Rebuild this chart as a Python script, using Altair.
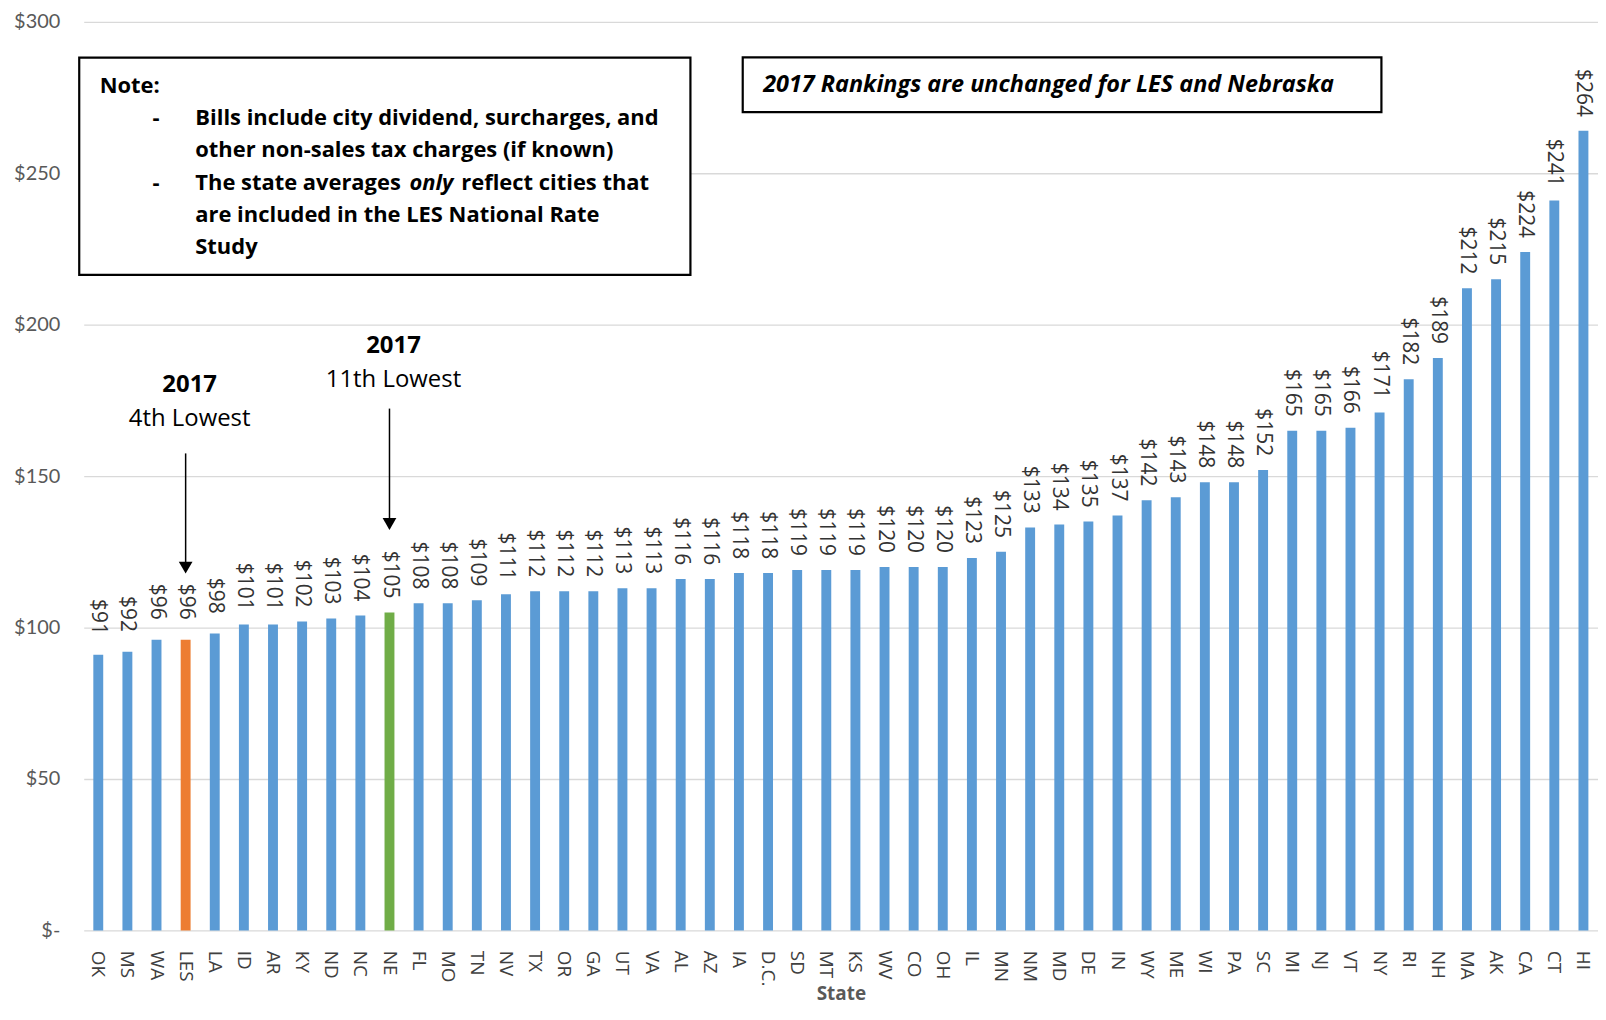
import altair as alt
import pandas as pd

# ---------------- data ----------------
states = ["OK", "MS", "WA", "LES", "LA", "ID", "AR", "KY", "ND", "NC", "NE", "FL", "MO",
          "TN", "NV", "TX", "OR", "GA", "UT", "VA", "AL", "AZ", "IA", "D.C.", "SD", "MT",
          "KS", "WV", "CO", "OH", "IL", "MN", "NM", "MD", "DE", "IN", "WY", "ME", "WI",
          "PA", "SC", "MI", "NJ", "VT", "NY", "RI", "NH", "MA", "AK", "CA", "CT", "HI"]
bills = [91, 92, 96, 96, 98, 101, 101, 102, 103, 104, 105, 108, 108,
         109, 111, 112, 112, 112, 113, 113, 116, 116, 118, 118, 119, 119,
         119, 120, 120, 120, 123, 125, 133, 134, 135, 137, 142, 143, 148,
         148, 152, 165, 165, 166, 171, 182, 189, 212, 215, 224, 241, 264]
highlight_states = ["LES", "NE"]
highlight_colors = ["#ED7D31", "#70AD47"]
base_color = "#5B9BD5"
y_ticks = [0, 50, 100, 150, 200, 250, 300]

# arrow annotations
arrow_states = ["LES", "NE"]
arrow_top = [157.5, 172.3]
arrow_head = [119.8, 134.2]
ann_year = ["2017", "2017"]
ann_year_y = [180.2, 193.0]
ann_rank = ["4th Lowest", "11th Lowest"]
ann_rank_y = [169.0, 181.8]

note_title = "Note:"
note_lines = ["Bills include city dividend, surcharges, and",
              "other non-sales tax charges (if known)",
              "are included in the LES National Rate",
              "Study"]
note_line3 = ["The state averages", "only", "reflect cities that"]
banner_text = "2017 Rankings are unchanged for LES and Nebraska"

# ---------------- frames ----------------
color_map = dict(zip(highlight_states, highlight_colors))
df = pd.DataFrame({"State": states, "Bill": bills})
df["Color"] = [color_map.get(s, base_color) for s in states]
df["Label"] = ["$" + str(v) for v in bills]

arr = pd.DataFrame({"State": arrow_states, "top": arrow_top, "head": arrow_head,
                    "year": ann_year, "year_y": ann_year_y,
                    "rank": ann_rank, "rank_y": ann_rank_y})
one = pd.DataFrame({"k": [0]})

W, H = 1520, 912
sort_x = states

x_main = alt.X("State:N", sort=sort_x,
               scale=alt.Scale(paddingInner=0.66, paddingOuter=0.33),
               axis=alt.Axis(labelAngle=90, labelAlign="left", labelBaseline="middle",
                             labelPadding=20, ticks=False, domain=False, grid=False,
                             labelOverlap=False, labelFont="Open Sans", labelFontSize=19,
                             labelColor="#404040", title="State", titleFont="Open Sans",
                             titleFontSize=19, titleFontWeight="bold", titleColor="#595959",
                             titleY=69, titleBaseline="alphabetic"))
y_main = alt.Y("Bill:Q", scale=alt.Scale(domain=[0, 300], nice=False, zero=True),
               axis=alt.Axis(values=y_ticks, labelExpr="datum.value == 0 ? '$-\u00a0\u00a0' : '$' + datum.value",
                             grid=True, gridColor="#D9D9D9", gridWidth=1.3, domain=False,
                             ticks=False, labelPadding=24, labelFont="Lato", labelFontSize=20,
                             labelColor="#595959", title=None))
xs = alt.X("State:N", sort=sort_x)

bars = alt.Chart(df).mark_bar().encode(
    x=x_main, y=y_main, color=alt.Color("Color:N", scale=None))

labels = alt.Chart(df).mark_text(angle=90, align="center", baseline="middle", dx=-38,
                                 font="Open Sans", fontSize=21, color="#333333").encode(
    x=xs, y="Bill:Q", text="Label:N")

rules = alt.Chart(arr).mark_rule(color="black", strokeWidth=1.5).encode(
    x=xs, y="top:Q", y2="head:Q")
heads = alt.Chart(arr).mark_point(shape="triangle-down", filled=True, size=190,
                                  color="black", opacity=1).encode(x=xs, y="head:Q")
years = alt.Chart(arr).mark_text(font="Open Sans", fontSize=24, fontWeight="bold",
                                 color="black", baseline="middle", dx=4).encode(
    x=xs, y="year_y:Q", text="year:N")
ranks = alt.Chart(arr).mark_text(font="Open Sans", fontSize=24, color="black",
                                 baseline="middle", dx=4).encode(
    x=xs, y="rank_y:Q", text="rank:N")


def box(x1, x2, y1, y2):
    return alt.Chart(one).mark_rect(fill="white", stroke="black", strokeWidth=2.2).encode(
        x=alt.value(x1), x2=alt.value(x2), y=alt.value(y1), y2=alt.value(y2))


def txt(s, x, y, size=22, style="normal", align="left"):
    return alt.Chart(one).mark_text(text=s, align=align, baseline="middle", font="Open Sans",
                                    fontSize=size, fontWeight="bold", fontStyle=style,
                                    color="black").encode(x=alt.value(x), y=alt.value(y))


note_box = box(-4.5, 609, 36, 254)
banner_box = box(661.5, 1302.6, 35.7, 90.7)

texts = [
    txt(note_title, 16, 64),
    txt("-", 69, 97),
    txt("-", 69, 162),
    txt(note_lines[0], 112, 97),
    txt(note_lines[1], 112, 129),
    txt(note_line3[0], 112, 162),
    txt(note_line3[1], 327, 162, style="italic"),
    txt(note_line3[2], 379, 162),
    txt(note_lines[2], 112, 194),
    txt(note_lines[3], 112, 226),
    txt(banner_text, 682, 63, size=23.5, style="italic"),
]

chart = alt.layer(bars, labels, rules, heads, years, ranks, note_box, banner_box, *texts).properties(
    width=W, height=H,
    autosize=alt.AutoSizeParams(type="none"),
    padding={"left": 76, "top": 12, "right": 0, "bottom": 78},
    background="white",
).configure_view(stroke=None)

chart.save("out.html", embed_options={"renderer": "svg", "actions": False})
